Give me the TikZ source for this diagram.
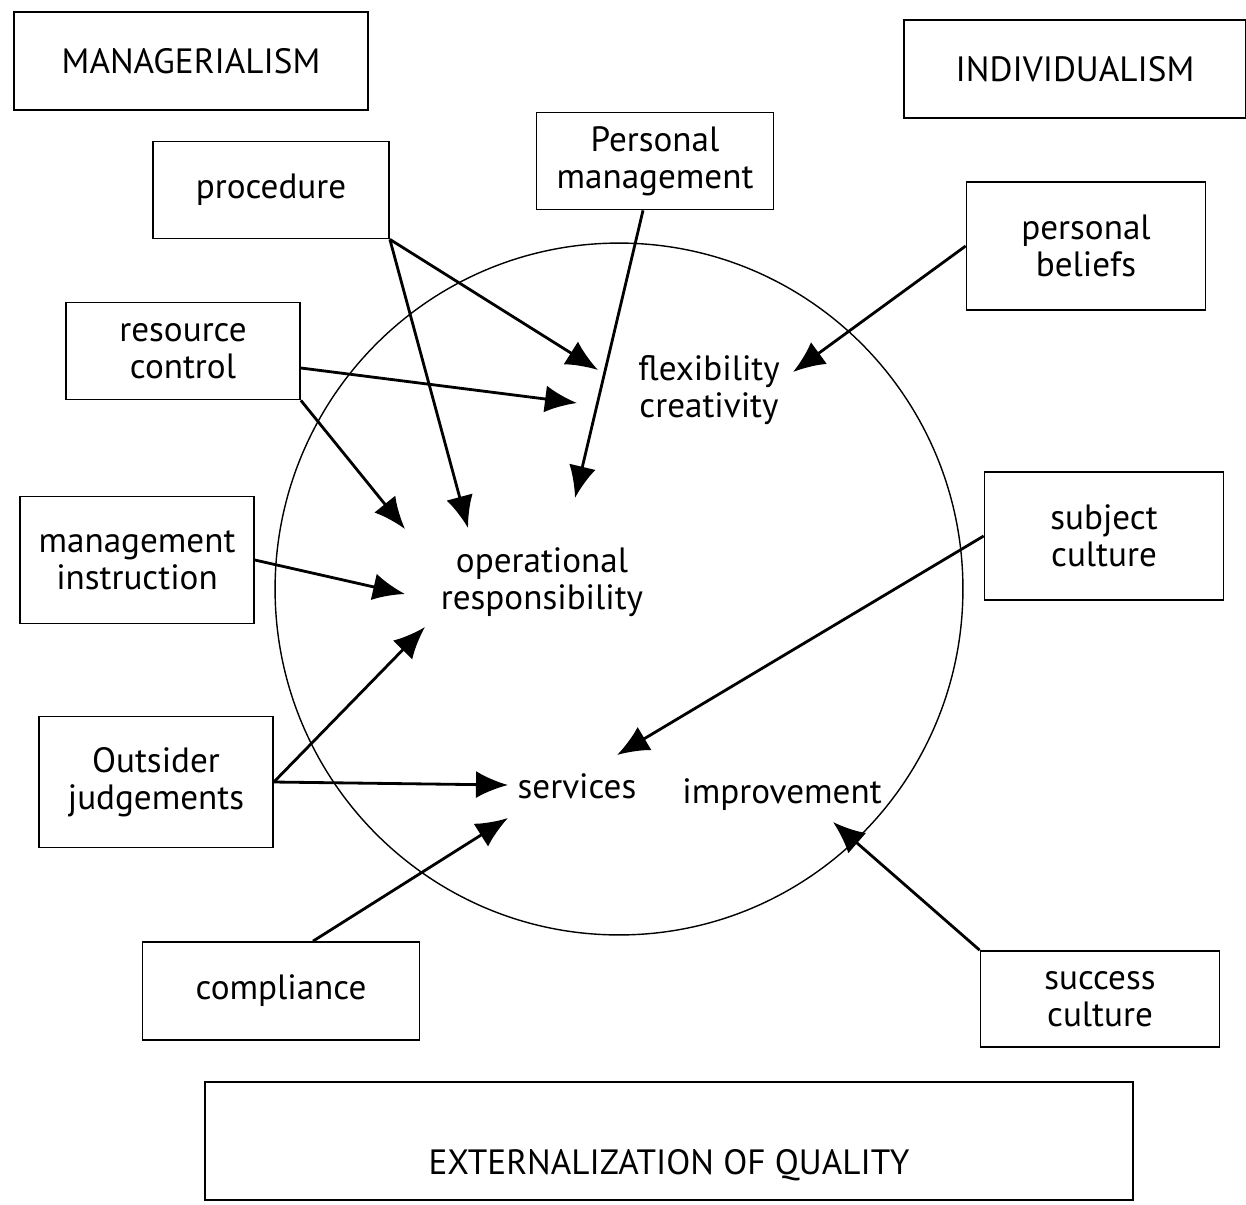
\documentclass[tikz,border=0pt]{standalone}
\usepackage{fontspec}
\setmainfont{PT Sans}
\usetikzlibrary{arrows.meta}
\begin{document}
\begin{tikzpicture}[x=0.02cm, y=-0.02cm, font=\fontsize{20}{21}\selectfont]
        \useasboundingbox (0,0) rectangle (1246,1204);
        \tikzstyle{b}=[draw, line width=1pt, align=center, inner sep=0pt]
        \tikzstyle{t}=[align=center, inner sep=0pt]
        \node[b, minimum width=7.08cm, minimum height=1.96cm] (MAN) at (191,61) {MANAGERIALISM};
        \node[b, minimum width=6.84cm, minimum height=1.96cm] (IND) at (1075,69) {INDIVIDUALISM};
        \node[b, minimum width=4.72cm, minimum height=1.94cm] (PROC) at (271,190) {procedure};
        \node[b, minimum width=4.74cm, minimum height=1.94cm] (PM) at (655,161) {Personal\\management};
        \node[b, minimum width=4.78cm, minimum height=2.56cm] (PB) at (1086,246) {personal\\beliefs};
        \node[b, minimum width=4.68cm, minimum height=1.94cm] (RC) at (183,351) {resource\\control};
        \node[b, minimum width=4.68cm, minimum height=2.54cm] (MI) at (137,560) {management\\instruction};
        \node[b, minimum width=4.78cm, minimum height=2.56cm] (SC) at (1104,536) {subject\\culture};
        \node[b, minimum width=4.68cm, minimum height=2.62cm] (OJ) at (156,782) {Outsider\\judgements};
        \node[b, minimum width=5.54cm, minimum height=1.96cm] (COMP) at (281,991) {compliance};
        \node[b, minimum width=4.78cm, minimum height=1.92cm] (SUCC) at (1100,999) {success\\culture};
        \node[b, minimum width=18.56cm, text height=1.84cm, text depth=0.52cm] (EXT) at (669,1141) {EXTERNALIZATION OF QUALITY};

        \draw[line width=0.8pt] (619,589) ellipse [x radius=6.88cm, y radius=6.92cm];

        \node[t] (FLEX) at (709,390) {flexibility\\creativity};
        \node[t] (OP) at (542,582) {operational\\responsibility};
        \node[t] (SERV) at (577,786) {services};
        \node[t] (IMPR) at (782,795) {improvement};

        \coordinate (T1) at (598,370);
        \coordinate (T2) at (468,528);
        \coordinate (T3) at (575,498);
        \coordinate (T4) at (793,372);
        \coordinate (T5) at (577,403);
        \coordinate (T6) at (405,529);
        \coordinate (T7) at (405,594);
        \coordinate (T8) at (425,627);
        \coordinate (T9) at (508,785);
        \coordinate (T10) at (617,755);
        \coordinate (T11) at (508,818);
        \coordinate (T12) at (833,822);

        \tikzstyle{late}=[-{Latex[length=0.64cm,width=0.54cm]}, line width=1.6pt]
        \draw[late] (PROC.south east)--(T1);
        \draw[late] (PROC.south east)--(T2);
        \draw[late] ([xshift=-0.24cm]PM.south)--(T3);
        \draw[late] (PB.west)--(T4);
        \draw[late] ([yshift=-0.34cm]RC.east)--(T5);
        \draw[late] (RC.south east)--(T6);
        \draw[late] (MI.east)--(T7);
        \draw[late] (OJ.east)--(T8);
        \draw[late] (OJ.east)--(T9);
        \draw[late] (SC.west)--(T10);
        \draw[late] ([xshift=0.64cm]COMP.north)--(T11);
        \draw[late] (SUCC.north west)--(T12);
    \end{tikzpicture}
\end{document}
